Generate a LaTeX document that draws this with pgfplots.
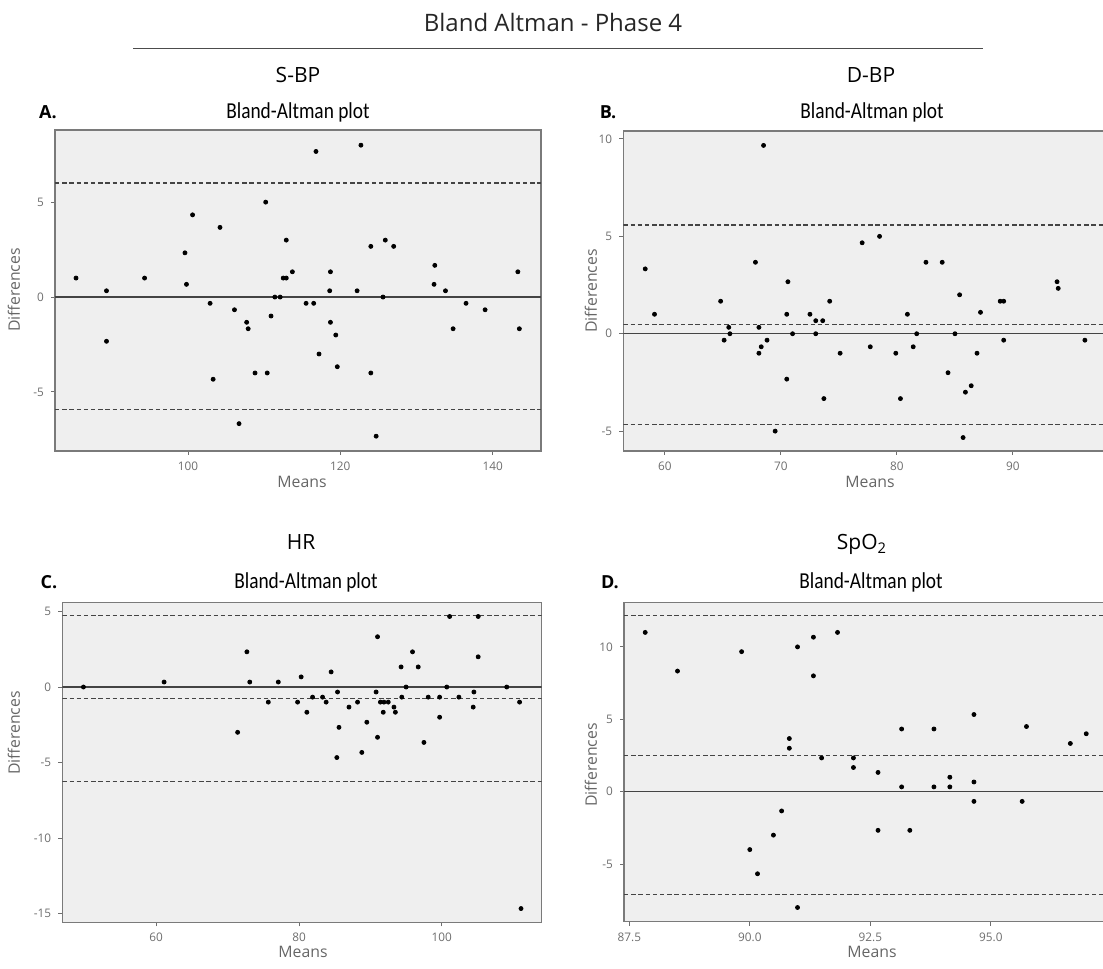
\documentclass[border=0pt]{standalone}
\usepackage{fontspec}
\setmainfont{Open Sans}
\newfontfamily\calib{Carlito}
\usepackage{pgfplots}
\pgfplotsset{compat=1.18}
\definecolor{bgc}{HTML}{EFEFEF}
\definecolor{bordc}{HTML}{7A7A7A}
\definecolor{tickc}{HTML}{6E6E6E}
\definecolor{labc}{HTML}{666666}
\definecolor{linec}{HTML}{444444}

\pgfplotsset{
  ba/.style={
    scale only axis, anchor=south west,
    axis background/.style={fill=bgc},
    axis line style={bordc, line width=0.75pt},
    tick align=outside, xtick pos=left, ytick pos=left,
    major tick length=2pt, tick style={tickc, line width=0.5pt},
    tick label style={font=\fontsize{5.9}{6}\selectfont, text=tickc},
    /pgf/number format/assume math mode=true,
    clip=true,
  },
  dots/.style={only marks, mark=*, mark size=1pt, black},
  loa/.style={linec, line width=0.65pt, dash pattern=on 2.2pt off 1.4pt},
  zero/.style={linec, line width=0.65pt},
}
\newcommand{\sub}[1]{{\calib\fontsize{11.4}{12}\selectfont\scalebox{0.85}[1]{#1}}}

\pgfplotstableread{
m d
85.3 1.0
89.3 0.33
89.3 -2.33
94.3 1.0
99.6 2.33
99.8 0.67
100.6 4.33
102.9 -0.33
103.3 -4.33
104.2 3.67
106.1 -0.67
106.7 -6.67
107.7 -1.33
107.9 -1.67
108.8 -4.0
110.2 5.0
110.4 -4.0
110.9 -1.0
111.4 0
112.1 0
112.5 1.0
112.9 1.0
112.9 3.0
113.7 1.33
115.5 -0.33
116.5 -0.33
116.8 7.67
117.2 -3.0
118.6 0.33
118.7 1.33
118.7 -1.33
119.4 -2.0
119.6 -3.67
122.2 0.33
122.7 8.0
124.0 2.67
124.0 -4.0
124.7 -7.33
125.6 0
125.9 3.0
127.0 2.67
132.3 0.67
132.4 1.67
133.8 0.33
134.8 -1.67
136.5 -0.33
139.0 -0.67
143.3 1.33
143.5 -1.67
}\sbp

\pgfplotstableread{
m d
58.3 3.33
59.1 1.0
64.8 1.67
65.1 -0.33
65.5 0.33
65.6 0
67.8 3.67
68.1 -1.0
68.1 0.33
68.3 -0.67
68.5 9.67
68.8 -0.33
69.5 -5.0
70.5 1.0
70.5 -2.33
70.6 2.67
71.0 0
72.5 1.0
73.0 0.67
73.0 0
73.6 0.67
73.7 -3.33
74.2 1.67
75.1 -1.0
77.0 4.67
77.7 -0.67
78.5 5.0
79.9 -1.0
80.3 -3.33
80.9 1.0
81.4 -0.67
81.7 0
82.5 3.67
83.9 3.67
84.4 -2.0
85.0 0
85.4 2.0
85.7 -5.33
85.9 -3.0
86.4 -2.67
86.9 -1.0
87.2 1.1
88.9 1.67
89.2 1.67
89.2 -0.33
93.8 2.67
93.9 2.33
96.2 -0.33
}\dbp

\pgfplotstableread{
m d
49.8 0
61.1 0.33
71.4 -3.0
72.7 2.33
73.1 0.33
75.7 -1.0
77.1 0.33
79.8 -1.0
80.3 0.67
81.1 -1.67
81.9 -0.67
83.3 -0.67
83.8 -1.0
84.5 1.0
85.3 -4.67
85.4 -0.33
85.6 -2.67
87.0 -1.33
88.2 -1.0
88.8 -4.33
89.5 -2.33
90.8 -0.33
91.0 3.33
91.0 -3.33
91.4 -1.0
91.8 -1.67
91.9 -1.0
92.5 -1.0
93.3 -1.33
93.5 -1.67
94.3 1.33
94.4 -0.67
95.0 0
95.9 2.33
96.7 1.33
97.5 -3.67
98.1 -0.67
99.7 -0.67
99.7 -2.0
100.7 0
101.1 4.67
102.4 -0.67
104.4 -1.33
104.5 -0.33
105.1 4.67
105.1 2.0
109.1 0
110.9 -1.0
111.1 -14.67
}\hr

\pgfplotstableread{
m d
87.83 11.0
88.5 8.33
89.83 9.67
90.0 -4.0
90.16 -5.67
90.49 -3.0
90.66 -1.33
90.82 3.67
90.82 3.0
90.99 10.0
90.99 -8.0
91.32 10.67
91.32 8.0
91.49 2.33
91.82 11.0
92.15 2.33
92.15 1.67
92.66 1.33
92.66 -2.67
93.15 4.33
93.15 0.33
93.32 -2.67
93.82 4.33
93.82 0.33
94.15 1.0
94.15 0.33
94.65 5.33
94.65 0.67
94.65 -0.67
95.65 -0.67
95.74 4.5
96.65 3.33
96.98 4.0
}\spo

\begin{document}
\begin{tikzpicture}
\path[use as bounding box] (0,0) rectangle (551.5pt,484.5pt);
\clip (0,0) rectangle (551.5pt,484.5pt);

% headings
\node[anchor=base, font=\fontsize{12}{14}\selectfont, text=black!85] at (276.5pt,468.5pt) {Bland Altman - Phase 4};
\draw[black!70, line width=0.5pt] (66.5pt,460pt) -- (491.5pt,460pt);
\node[anchor=base, font=\fontsize{10.5}{12}\selectfont] at (149pt,443pt) {S-BP};
\node[anchor=base, font=\fontsize{10.5}{12}\selectfont] at (435.5pt,443pt) {D-BP};
\node[anchor=base, font=\fontsize{10.5}{12}\selectfont] at (150.5pt,209.5pt) {HR};
\node[anchor=base, font=\fontsize{10.5}{12}\selectfont] at (431pt,209.5pt) {SpO\textsubscript{2}};
\node[anchor=base] at (149pt,425pt) {\sub{Bland-Altman plot}};
\node[anchor=base] at (436pt,425pt) {\sub{Bland-Altman plot}};
\node[anchor=base] at (153pt,190pt) {\sub{Bland-Altman plot}};
\node[anchor=base] at (435.5pt,190pt) {\sub{Bland-Altman plot}};
\node[anchor=base, font=\fontsize{9}{10}\selectfont\bfseries] at (24pt,425pt) {A.};
\node[anchor=base, font=\fontsize{9}{10}\selectfont\bfseries] at (304pt,425pt) {B.};
\node[anchor=base, font=\fontsize{9}{10}\selectfont\bfseries] at (24.5pt,190pt) {C.};
\node[anchor=base, font=\fontsize{9}{10}\selectfont\bfseries] at (305pt,190pt) {D.};

% axis titles
\begin{scope}[every node/.style={font=\fontsize{7.9}{9}\selectfont, text=labc}]
\node[rotate=90] at (7pt,339.5pt) {Differences};
\node[rotate=90] at (295.5pt,339pt) {Differences};
\node[rotate=90] at (7pt,118pt) {Differences};
\node[rotate=90] at (295.5pt,102pt) {Differences};
\node at (151pt,243.75pt) {Means};
\node at (435pt,243.75pt) {Means};
\node at (151.5pt,8.5pt) {Means};
\node at (436pt,8.5pt) {Means};
\end{scope}

% A. S-BP
\begin{axis}[ba, at={(27.5pt,259pt)}, width=243pt, height=160.5pt,
  xmin=82.54, xmax=146.34, ymin=-8.11, ymax=8.80,
  xtick={100,120,140}, ytick={-5,0,5}]
  \addplot[zero] coordinates {(82.54,0) (146.34,0)};
  \addplot[loa] coordinates {(82.54,6.01) (146.34,6.01)};
  \addplot[loa] coordinates {(82.54,0.03) (146.34,0.03)};
  \addplot[loa] coordinates {(82.54,-5.94) (146.34,-5.94)};
  \addplot[dots] table[x=m, y=d] {\sbp};
\end{axis}

% B. D-BP
\begin{axis}[ba, at={(311.65pt,259pt)}, width=241.35pt, height=160pt,
  xmin=56.41, xmax=98.02, ymin=-6.02, ymax=10.41,
  xtick={60,70,80,90}, ytick={-5,0,5,10}]
  \addplot[zero] coordinates {(56.41,0) (98.02,0)};
  \addplot[loa] coordinates {(56.41,5.58) (98.02,5.58)};
  \addplot[loa] coordinates {(56.41,0.46) (98.02,0.46)};
  \addplot[loa] coordinates {(56.41,-4.67) (98.02,-4.67)};
  \addplot[dots] table[x=m, y=d] {\dbp};
\end{axis}

% C. HR
\begin{axis}[ba, at={(31.15pt,23.35pt)}, width=239.7pt, height=160pt,
  xmin=46.84, xmax=114.0, ymin=-15.58, ymax=5.61,
  xtick={60,80,100}, ytick={-15,-10,-5,0,5}]
  \addplot[zero] coordinates {(46.84,0) (114.0,0)};
  \addplot[loa] coordinates {(46.84,4.72) (114.0,4.72)};
  \addplot[loa] coordinates {(46.84,-0.77) (114.0,-0.77)};
  \addplot[loa] coordinates {(46.84,-6.27) (114.0,-6.27)};
  \addplot[dots] table[x=m, y=d] {\hr};
\end{axis}

% D. SpO2
\begin{axis}[ba, at={(312pt,23.65pt)}, width=241pt, height=159.7pt,
  xmin=87.39, xmax=97.39, ymin=-8.98, ymax=13.08,
  xtick={87.5,90,92.5,95}, ytick={-5,0,5,10},
  xticklabel style={/pgf/number format/.cd, fixed, fixed zerofill, precision=1}]
  \addplot[zero] coordinates {(87.39,0) (97.39,0)};
  \addplot[loa] coordinates {(87.39,12.15) (97.39,12.15)};
  \addplot[loa] coordinates {(87.39,2.51) (97.39,2.51)};
  \addplot[loa] coordinates {(87.39,-7.11) (97.39,-7.11)};
  \addplot[dots] table[x=m, y=d] {\spo};
\end{axis}
\end{tikzpicture}
\end{document}
